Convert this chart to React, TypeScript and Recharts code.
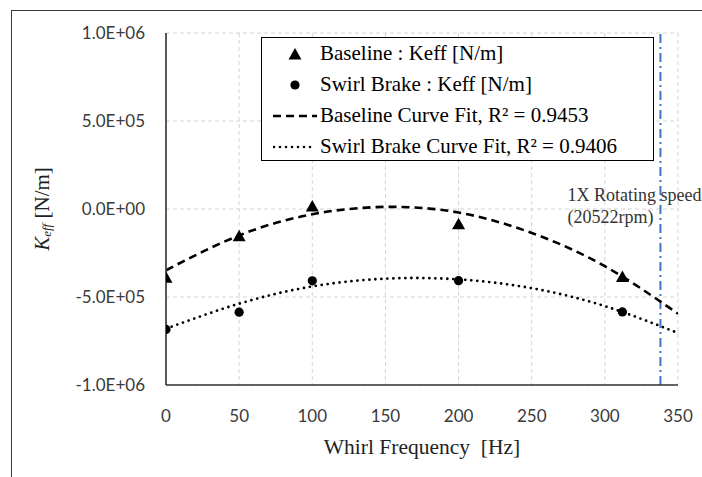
import {
  ComposedChart,
  Line,
  Scatter,
  XAxis,
  YAxis,
  CartesianGrid,
  ReferenceLine,
} from 'recharts'

// measured points
const baseFreq = [0, 50, 100, 200, 312]
const baseKeff = [-388000, -152000, 17000, -84000, -384000]
const swirlFreq = [0, 50, 100, 200, 312]
const swirlKeff = [-684000, -586000, -408000, -407000, -585000]

// curve fits
const fitFreq = [0, 50, 100, 150, 200, 250, 300, 350]
const baseFitKeff = [-348000, -150000, -30000, 12000, -20000, -136000, -325000, -595000]
const swirlFitKeff = [-680000, -538000, -440000, -396000, -400000, -450000, -552000, -705000]

const xTicks = [0, 50, 100, 150, 200, 250, 300, 350]
const yTicks = [-1000000, -500000, 0, 500000, 1000000]
const rotatingSpeedHz = 338

const basePts = baseFreq.map((f, i) => ({ f, k: baseKeff[i] }))
const swirlPts = swirlFreq.map((f, i) => ({ f, k: swirlKeff[i] }))
const baseFit = fitFreq.map((f, i) => ({ f, k: baseFitKeff[i] }))
const swirlFit = fitFreq.map((f, i) => ({ f, k: swirlFitKeff[i] }))

const SANS = 'Lato, "Open Sans", sans-serif'
const SERIF = '"Liberation Serif", "Times New Roman", serif'

function sci(v: number) {
  if (v === 0) return '0.0E+00'
  const e = Math.floor(Math.log10(Math.abs(v)))
  const m = (v / Math.pow(10, e)).toFixed(1)
  return `${m}E${e >= 0 ? '+' : '-'}${String(Math.abs(e)).padStart(2, '0')}`
}

const Triangle = (props: any) => {
  const { cx, cy } = props
  return <polygon points={`${cx},${cy - 6} ${cx + 6.5},${cy + 5.5} ${cx - 6.5},${cy + 5.5}`} fill="#000" />
}

const Dot = (props: any) => <circle cx={props.cx} cy={props.cy} r={4.6} fill="#000" />

const YTitle = (props: any) => {
  const vb = props.viewBox || { x: 66, y: 33, width: 100, height: 352 }
  const x = 42
  const y = vb.y + vb.height / 2
  return (
    <text
      x={x}
      y={y}
      transform={`rotate(-90, ${x}, ${y})`}
      textAnchor="middle"
      dominantBaseline="central"
      fontFamily={SERIF}
      fontSize={21}
      fill="#222"
    >
      <tspan fontStyle="italic">K</tspan>
      <tspan fontStyle="italic" fontSize={13} dy={4}>eff</tspan>
      <tspan dy={-4}> [N/m]</tspan>
    </text>
  )
}

const XTitle = (props: any) => {
  const vb = props.viewBox || { x: 166, y: 385, width: 512, height: 70 }
  return (
    <text x={vb.x + vb.width / 2} y={454} textAnchor="middle" fontFamily={SERIF} fontSize={21.5} fill="#222">
      {'Whirl Frequency\u00a0 [Hz]'}
    </text>
  )
}

const SpeedLabel = (props: any) => {
  const vb = props.viewBox || { x: 661, y: 33 }
  const x = vb.x - 93
  return (
    <text fontFamily={SERIF} fontSize={18} fill="#333">
      <tspan x={x} y={201}>1X Rotating speed</tspan>
      <tspan x={x} y={223}>(20522rpm)</tspan>
    </text>
  )
}

const legendRows = [
  { kind: 'tri', text: 'Baseline : Keff [N/m]' },
  { kind: 'dot', text: 'Swirl Brake : Keff [N/m]' },
  { kind: 'dash', text: 'Baseline Curve Fit, R² = 0.9453' },
  { kind: 'dots', text: 'Swirl Brake Curve Fit, R² = 0.9406' },
]

function LegendSymbol({ kind }: { kind: string }) {
  return (
    <svg width={44} height={16} style={{ display: 'block' }}>
      {kind === 'tri' && <polygon points="22,2 28.5,13.5 15.5,13.5" fill="#000" />}
      {kind === 'dot' && <circle cx={22} cy={8} r={4.6} fill="#000" />}
      {kind === 'dash' && <line x1={0} y1={8} x2={44} y2={8} stroke="#000" strokeWidth={2.5} strokeDasharray="8 5" />}
      {kind === 'dots' && (
        <line x1={1} y1={8} x2={43} y2={8} stroke="#000" strokeWidth={2.6} strokeDasharray="0 6" strokeLinecap="round" />
      )}
    </svg>
  )
}

export default function App() {
  return (
    <div style={{ position: 'fixed', left: 0, top: 0, width: 702, height: 477, overflow: 'hidden', background: '#fff' }}>
      <div
        style={{
          position: 'absolute',
          left: 11,
          top: 10,
          width: 800,
          height: 600,
          border: '1.5px solid #3a3a3a',
        }}
      />
      <div style={{ position: 'absolute', left: 0, top: 0 }}>
        <ComposedChart width={702} height={477} margin={{ top: 33, right: 24, bottom: 22, left: 66 }}>
          <CartesianGrid stroke="#d4d4d4" strokeDasharray="4 3" />
          <XAxis
            dataKey="f"
            type="number"
            domain={[0, 350]}
            ticks={xTicks}
            allowDataOverflow
            height={70}
            tickLine={false}
            tickSize={0}
            tickMargin={25}
            axisLine={{ stroke: '#333', strokeWidth: 1.6 }}
            tick={{ fontFamily: SANS, fontSize: 17, fill: '#3a3a3a' }}
            label={<XTitle />}
          />
          <YAxis
            dataKey="k"
            type="number"
            domain={[-1000000, 1000000]}
            ticks={yTicks}
            allowDataOverflow
            width={100}
            tickLine={false}
            tickSize={0}
            tickMargin={21}
            tickFormatter={sci}
            axisLine={{ stroke: '#333', strokeWidth: 1.6 }}
            tick={{ fontFamily: SANS, fontSize: 17, fill: '#3a3a3a' }}
            label={<YTitle />}
          />
          <ReferenceLine
            x={rotatingSpeedHz}
            stroke="#4472C4"
            strokeWidth={2}
            strokeDasharray="9 4 2 4"
            label={<SpeedLabel />}
          />
          <Line
            data={baseFit}
            dataKey="k"
            type="natural"
            stroke="#000"
            strokeWidth={2.6}
            strokeDasharray="8 5"
            dot={false}
            activeDot={false}
            isAnimationActive={false}
          />
          <Line
            data={swirlFit}
            dataKey="k"
            type="natural"
            stroke="#000"
            strokeWidth={2.8}
            strokeDasharray="0 6"
            strokeLinecap="round"
            dot={false}
            activeDot={false}
            isAnimationActive={false}
          />
          <Scatter data={basePts} dataKey="k" shape={<Triangle />} isAnimationActive={false} />
          <Scatter data={swirlPts} dataKey="k" shape={<Dot />} isAnimationActive={false} />
        </ComposedChart>
      </div>
      <div
        style={{
          position: 'absolute',
          left: 261,
          top: 37,
          width: 391,
          height: 122,
          border: '1.5px solid #000',
          background: '#fff',
          fontFamily: SERIF,
          fontSize: 21,
          color: '#000',
        }}
      >
        {legendRows.map((r) => (
          <div key={r.text} style={{ display: 'flex', alignItems: 'center', height: 31 }}>
            <div style={{ marginLeft: 11, width: 44 }}>
              <LegendSymbol kind={r.kind} />
            </div>
            <span style={{ marginLeft: 3, whiteSpace: 'nowrap' }}>{r.text}</span>
          </div>
        ))}
      </div>
    </div>
  )
}
